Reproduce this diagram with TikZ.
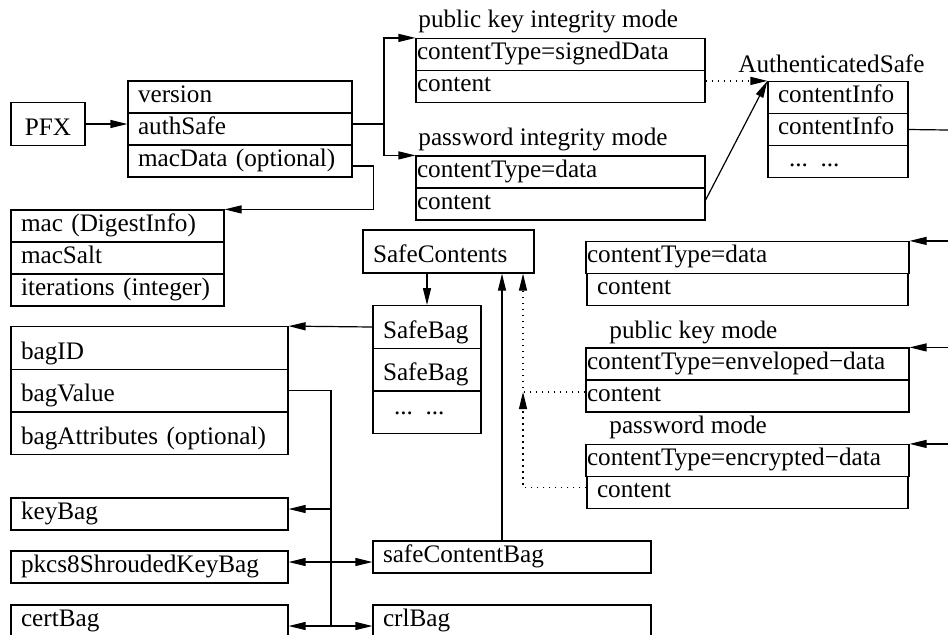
\documentclass[tikz,border=0pt]{standalone}
\usepackage{fontspec}
\setmainfont{Liberation Serif}
\usetikzlibrary{arrows.meta, positioning}
\tikzstyle{row} = [rectangle, draw=black, line width=0.6pt, inner xsep=5pt, inner ysep=0pt, minimum height=16pt, text height=9pt, text depth=4pt, align=left]
\tikzstyle{flat} = [row, inner xsep=0.5pt]
\tikzstyle{tall} = [row, minimum height=21.3pt, text height=12pt, text depth=1pt]
\tikzstyle{lbl} = [inner sep=0pt, anchor=base west]
\tikzstyle{conn} = [line width=0.6pt]
\tikzstyle{arrow} = [conn, -{Triangle[length=8.5pt, width=4pt]}]
\tikzstyle{dotarrow} = [arrow, dash pattern=on 0.8pt off 2.2pt]

\begin{document}
\begin{tikzpicture}[x=0.5pt, y=-0.5pt, node distance=16pt, font=\fontsize{12.6}{15}\selectfont]
\useasboundingbox (0,0) rectangle (948,634);
\clip (0,0) rectangle (948,634);

% PFX
\node (pfx) [tall, minimum width=37pt, align=center] at (48,124) {PFX};
\node (ver) [row, text width=102pt] at (240,97) {version};
\node (auth) [row, text width=102pt, below of=ver] {authSafe};
\node (macd) [row, text width=102pt, below of=auth] {macData (optional)};

% integrity modes
\node (pklbl) [lbl] at (418,27) {public key integrity mode};
\node (pk1) [flat, text width=143.5pt] at (560.5,54.5) {contentType=signedData};
\node (pk2) [flat, text width=143.5pt, below of=pk1] {content};
\node (pwlbl) [lbl] at (418,145) {password integrity mode};
\node (pw1) [flat, text width=143.5pt] at (560.5,172) {contentType=data};
\node (pw2) [flat, text width=143.5pt, below of=pw1] {content};

% AuthenticatedSafe
\node (aslbl) [lbl] at (738,72) {AuthenticatedSafe};
\node (as1) [row, text width=60pt] at (838,97.5) {contentInfo};
\node (as2) [row, text width=60pt, below of=as1] {contentInfo};
\node (as3) [row, text width=60pt, below of=as2] {\hspace*{5.5pt}... ...};

% MacData
\node (mac1) [row, text width=96.5pt] at (117.5,226) {mac (DigestInfo)};
\node (mac2) [row, text width=96.5pt, below of=mac1] {macSalt};
\node (mac3) [row, text width=96.5pt, below of=mac2] {iterations (integer)};

% SafeContents and SafeBag
\node (sc) [tall, text width=75.5pt, minimum height=21.5pt] at (448.5,251.5) {SafeContents};
\node (sb1) [tall, text width=44pt] at (427,327) {SafeBag};
\node (sb2) [tall, text width=44pt, node distance=21.3pt, below of=sb1] {SafeBag};
\node (sb3) [tall, text width=44pt, text height=6pt, text depth=4pt, node distance=21.3pt, below of=sb2] {\hspace*{5.5pt}... ...};
\node (bag1) [tall, text width=128.5pt] at (149.5,348) {bagID};
\node (bag2) [tall, text width=128.5pt, node distance=21.3pt, below of=bag1] {bagValue};
\node (bag3) [tall, text width=128.5pt, node distance=21.3pt, below of=bag2] {bagAttributes (optional)};

% ContentInfo kinds
\node (dt1) [flat, text width=160.5pt] at (747.5,257.5) {contentType=data};
\node (dt2) [row, text width=150.5pt, below of=dt1] {content};
\node (pmlbl) [lbl] at (609,338) {public key mode};
\node (ev1) [flat, text width=160.5pt] at (747.5,364) {contentType=enveloped−data};
\node (ev2) [flat, text width=160.5pt, below of=ev1] {content};
\node (wmlbl) [lbl] at (609,433) {password mode};
\node (ec1) [flat, text width=160.5pt] at (747.5,460.5) {contentType=encrypted−data};
\node (ec2) [row, text width=150.5pt, below of=ec1] {content};

% bag types
\node (kb) [row, text width=128.5pt] at (149.5,514) {keyBag};
\node (p8) [row, text width=128.5pt] at (149.5,567) {pkcs8ShroudedKeyBag};
\node (cert) [row, text width=128.5pt] at (149.5,621) {certBag};
\node (scb) [row, text width=129pt] at (512,557) {safeContentBag};
\node (crl) [row, text width=129pt] at (512,621) {crlBag};

% connectors
\coordinate (fk) at (384,124);
\coordinate (e1) at (948,130);
\coordinate (t0) at (331,626);
\coordinate (t1) at (331,509);
\coordinate (t2) at (331,562);
\coordinate (up) at (502,0);
\coordinate (dv) at (523,0);
\draw[arrow] (pfx.east) -- (pfx.east -| auth.west);
\draw[conn] (fk -| auth.east) -- (fk);
\draw[arrow] (fk) |- (pk1.north west);
\draw[arrow] (fk) |- (pw1.north west);
\draw[arrow] ([yshift=-2.5pt]macd.east) -- ++(21,0) |- (mac1.north east);
\draw[dotarrow] (pk2.east |- as1.north west) -- (as1.north west);
\draw[arrow] ([yshift=2pt]pw2.east) -- (as1.north west);
\draw[conn] (as2.east) -- (e1);
\draw[arrow] (dt1.north east -| e1) -- (dt1.north east);
\draw[arrow] (ev1.north east -| e1) -- (ev1.north east);
\draw[arrow] (ec1.north east -| e1) -- (ec1.north east);
\draw[arrow] (sc.south -| sb1.north) -- (sb1.north);
\draw[arrow] (sb1.west) -- (bag1.north east);
\draw[conn] (bag2.east) -| (t0);
\draw[arrow] (t1) -- (t1 -| kb.east);
\draw[arrow] (t2) -- (t2 -| p8.east);
\draw[arrow] (t2) -- (t2 -| scb.west);
\draw[arrow] (t0) -- (t0 -| cert.east);
\draw[arrow] (t0) -- (t0 -| crl.west);
\draw[arrow] (scb.north -| up) -- (sc.south -| up);
\draw[dotarrow] ([yshift=2pt]ev2.west) -| (sc.south -| dv);
\draw[dotarrow] ([yshift=2.5pt]ec2.west) -| ([yshift=2pt]ev2.west -| dv);
\end{tikzpicture}
\end{document}
